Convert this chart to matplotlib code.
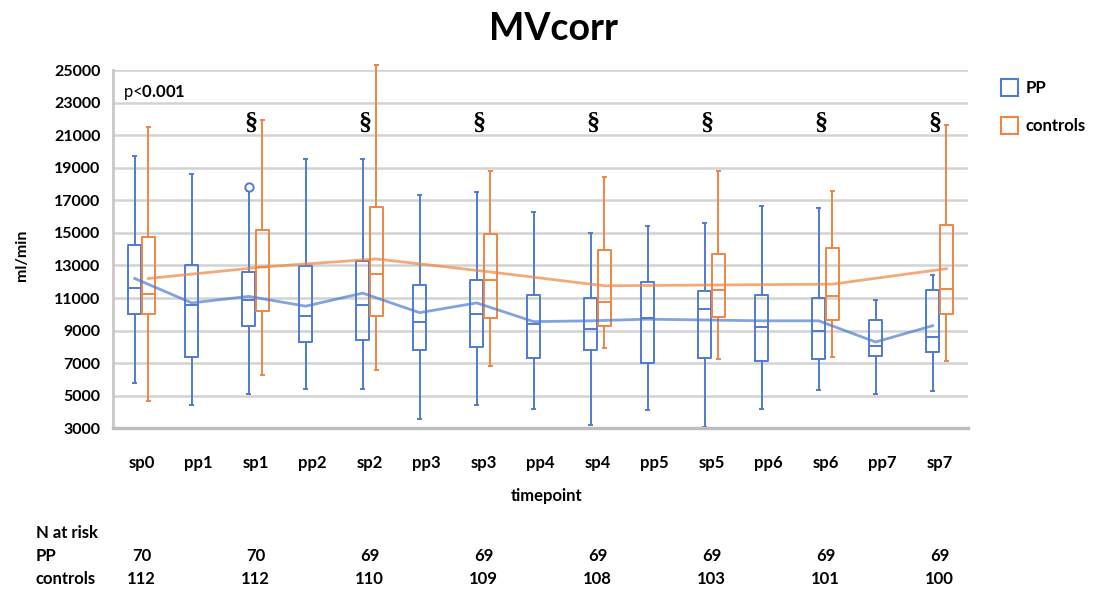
import matplotlib
matplotlib.use('Agg')
import matplotlib.pyplot as plt
import matplotlib.transforms as mtransforms
from matplotlib.patches import Patch
import numpy as np

# --- data ---
categories = ['sp0', 'pp1', 'sp1', 'pp2', 'sp2', 'pp3', 'sp3', 'pp4',
              'sp4', 'pp5', 'sp5', 'pp6', 'sp6', 'pp7', 'sp7']

# PP: one box per timepoint
pp_whislo = [5800, 4430, 5100, 5400, 5400, 3600, 4400, 4200, 3200, 4100, 3100, 4200, 5350, 5100, 5300]
pp_q1 = [10000, 7400, 9300, 8300, 8400, 7800, 8000, 7300, 7800, 7000, 7300, 7150, 7250, 7450, 7700]
pp_med = [11600, 10600, 10900, 9900, 10600, 9500, 10000, 9400, 9100, 9750, 10300, 9250, 9000, 8050, 8600]
pp_q3 = [14250, 13000, 12600, 12950, 13300, 11800, 12100, 11200, 11000, 12000, 11450, 11200, 11000, 9650, 11500]
pp_whishi = [19700, 18600, 17600, 19550, 19550, 17300, 17500, 16300, 15000, 15400, 15600, 16650, 16500, 10900, 12400]
pp_mean = [12200, 10700, 11100, 10500, 11300, 10100, 10700, 9550, 9600, 9700, 9650, 9600, 9600, 8300, 9300]
pp_outliers = {'sp1': [17830]}

# controls: only at the sp timepoints
ctrl_cats = ['sp0', 'sp1', 'sp2', 'sp3', 'sp4', 'sp5', 'sp6', 'sp7']
ctrl_whislo = [4700, 6300, 6600, 6800, 7900, 7250, 7400, 7150]
ctrl_q1 = [10000, 10200, 9900, 9800, 9300, 9850, 9650, 10000]
ctrl_med = [11250, 12900, 12500, 12100, 10750, 11500, 11100, 11550]
ctrl_q3 = [14750, 15200, 16600, 14900, 13950, 13700, 14100, 15500]
ctrl_whishi = [21500, 21900, 25300, 18800, 18400, 18800, 17600, 21600]
ctrl_mean = [12200, 12900, 13400, 12600, 11750, 11800, 11850, 12800]

sig_cats = ['sp1', 'sp2', 'sp3', 'sp4', 'sp5', 'sp6', 'sp7']
sig_level = 21700

n_pp = [70, 70, 69, 69, 69, 69, 69, 69]
n_ctrl = [112, 112, 110, 109, 108, 103, 101, 100]

BLUE = '#4F7BD0'
ORANGE = '#EE8642'

plt.rcParams['font.family'] = ['Lato', 'DejaVu Sans']
plt.rcParams['mathtext.fontset'] = 'custom'
plt.rcParams['mathtext.rm'] = 'Lato'
plt.rcParams['mathtext.bf'] = 'Lato:bold'

W, H = 1100, 589
fig = plt.figure(figsize=(W / 100, H / 100), dpi=100)
ax = fig.add_axes([113 / W, 1 - 428.3 / H, (968 - 113) / W, (428.3 - 70) / H])

x = np.arange(len(categories))
cx = np.array([categories.index(c) for c in ctrl_cats])
off = 0.12
bw = 0.23


def stats(lo, q1, med, q3, hi, mean, labels, fliers=None):
    out = []
    for i in range(len(lo)):
        fl = (fliers or {}).get(labels[i], [])
        out.append(dict(whislo=lo[i], q1=q1[i], med=med[i], q3=q3[i],
                        whishi=hi[i], mean=mean[i], fliers=fl))
    return out


def draw(st, pos, col):
    lp = dict(color=col, linewidth=1.4)
    arts = ax.bxp(st, positions=pos, widths=bw, showfliers=True,
                  boxprops=lp, whiskerprops=lp, capprops=lp, medianprops=lp,
                  flierprops=dict(marker='o', markerfacecolor='white',
                                  markeredgecolor=col, markersize=6, markeredgewidth=1.4),
                  capwidths=0.06, manage_ticks=False)
    for key in arts:
        for a in arts[key]:
            a.set_clip_on(False)


draw(stats(pp_whislo, pp_q1, pp_med, pp_q3, pp_whishi, pp_mean, categories, pp_outliers),
     x - off, BLUE)
draw(stats(ctrl_whislo, ctrl_q1, ctrl_med, ctrl_q3, ctrl_whishi, ctrl_mean, ctrl_cats),
     cx + off, ORANGE)

# mean lines
ax.plot(x - off, pp_mean, color=BLUE, lw=2, alpha=0.7)
ax.plot(cx + off, ctrl_mean, color=ORANGE, lw=2, alpha=0.7)

# significance marks
for c in sig_cats:
    ax.text(categories.index(c) - 0.08, sig_level, '\u00a7', ha='center', va='center',
            fontsize=19, family='Liberation Serif', weight='bold')

ax.text(0.012, 0.965, 'p<$\\mathbf{0.001}$', transform=ax.transAxes,
        ha='left', va='top', fontsize=12)

ax.set_xlim(-0.5, len(categories) - 0.5)
ax.set_ylim(3000, 25000)
ax.set_yticks(np.arange(3000, 25001, 2000))
ax.set_xticks(x)
ax.set_xticklabels(categories, fontsize=12, weight='bold')
for t in ax.get_yticklabels():
    t.set_fontsize(11.5)
    t.set_fontweight('bold')
ax.tick_params(axis='x', length=0, pad=19)
ax.tick_params(axis='y', length=0, pad=9)
ax.grid(axis='y', color='#D3D3D3', lw=1.8)
ax.set_axisbelow(True)
for s in ['top', 'right']:
    ax.spines[s].set_visible(False)
ax.spines['left'].set_color('#C8C8C8')
ax.spines['left'].set_linewidth(2)
ax.spines['bottom'].set_color('#BDBDBD')
ax.spines['bottom'].set_linewidth(2.4)

fig.text(553 / W, 1 - 29 / H, 'MVcorr', ha='center', va='center', fontsize=27, weight='bold')
fig.text(547 / W, 1 - 496 / H, 'timepoint', ha='center', va='center', fontsize=12, weight='bold')
fig.text(22 / W, 1 - 255 / H, 'ml/min', ha='center', va='center', rotation=90,
         fontsize=11.5, weight='bold')

handles = [Patch(facecolor='white', edgecolor=BLUE, lw=1.5, label='PP'),
           Patch(facecolor='white', edgecolor=ORANGE, lw=1.5, label='controls')]
fig.legend(handles=handles, loc='upper left', bbox_to_anchor=(986 / W, 1 - 64 / H),
           frameon=False, prop=dict(size=12, weight='bold'), handlelength=1.0,
           handleheight=1.2, handletextpad=0.5, labelspacing=1.25)

# N at risk table
tr = mtransforms.blended_transform_factory(ax.transData, fig.transFigure)
fig.text(36 / W, 1 - 533 / H, 'N at risk', ha='left', va='center', fontsize=12, weight='bold')
fig.text(36 / W, 1 - 556 / H, 'PP', ha='left', va='center', fontsize=12, weight='bold')
fig.text(36 / W, 1 - 579 / H, 'controls', ha='left', va='center', fontsize=12, weight='bold')
for i, c in enumerate(ctrl_cats):
    xi = categories.index(c)
    ax.text(xi, 1 - 556 / H, str(n_pp[i]), transform=tr, ha='center', va='center',
            fontsize=12, weight='bold')
    ax.text(xi, 1 - 579 / H, str(n_ctrl[i]), transform=tr, ha='center', va='center',
            fontsize=12, weight='bold')

fig.savefig('out.png', dpi=100)
